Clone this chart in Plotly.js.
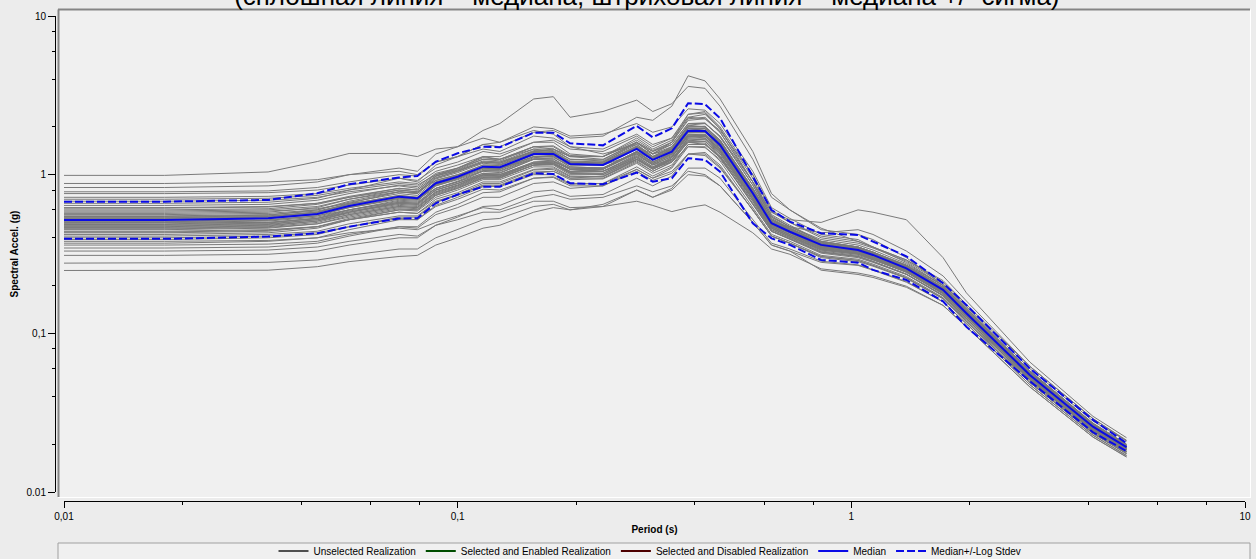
<!DOCTYPE html>
<html><head><meta charset="utf-8">
<script src="https://cdn.plot.ly/plotly-3.0.1.min.js"></script>
<style>html,body{margin:0;padding:0;background:#ececec;}#chart{width:1256px;height:559px;}</style>
</head><body><div id="chart"></div>
<script>
const periods = [0.01,0.018,0.033,0.044,0.053, 0.071,0.079,0.088,0.1,0.116,0.128,0.156,0.175,0.193,0.234, 0.285,0.313,0.35,0.385,0.425,0.464, 0.562,0.627,0.698,0.838, 1.04,1.135,1.38,1.71,1.96,2.84,4.11,5.0];

const median = [0.518,0.518,0.531,0.566,0.635, 0.727,0.710,0.883,0.971,1.123,1.113,1.35,1.35,1.168,1.151, 1.452,1.238,1.396,1.894,1.887,1.539, 0.763,0.494,0.437,0.361, 0.335,0.312,0.257,0.188,0.134,0.0547,0.0258,0.0192];
const upper = [0.676,0.676,0.693,0.763,0.87, 0.96,0.981,1.208,1.364,1.5,1.488,1.84,1.84,1.577,1.53, 2.03,1.72,1.96,2.82,2.78,2.27, 0.971,0.599,0.506,0.427, 0.417,0.38,0.306,0.207,0.151,0.06,0.0285,0.0203];
const lower = [0.394,0.394,0.407,0.427,0.47, 0.53,0.531,0.66,0.75,0.84,0.84,1.02,1.01,0.883,0.87, 1.03,0.904,0.949,1.27,1.24,1.044, 0.494,0.397,0.361,0.29, 0.279,0.251,0.217,0.159,0.11,0.05,0.0238,0.0181];

const r01 = [0.99,0.99,1.04,1.21,1.36, 1.36,1.3,1.45,1.5,1.7,1.6,2.0,1.95,1.75,1.8, 2.1,1.85,2.0,2.6,2.55,2.1, 1.05,0.62,0.53,0.42, 0.39,0.35,0.29,0.21,0.148,0.06,0.028,0.021];
const r02 = [0.88,0.88,0.9,0.93,1.0, 1.05,1.0,1.2,1.3,1.45,1.4,1.75,1.7,1.5,1.45, 1.8,1.55,1.7,2.3,2.25,1.85, 0.9,0.56,0.48,0.38, 0.35,0.325,0.27,0.2,0.14,0.057,0.027,0.0198];
const r03 = [0.83,0.83,0.85,0.9,1.0, 1.1,1.05,1.35,1.5,1.9,2.1,3.0,3.1,2.3,2.5, 2.95,2.5,2.8,3.6,3.5,2.7, 1.25,0.72,0.6,0.45, 0.42,0.39,0.3,0.2,0.14,0.058,0.027,0.02];
const r04 = [0.78,0.78,0.79,0.83,0.9, 1.0,0.98,1.2,1.3,1.55,1.5,1.85,1.9,1.7,1.75, 2.3,2.2,2.7,4.2,3.9,3.0, 1.4,0.76,0.6,0.46, 0.38,0.35,0.29,0.215,0.152,0.062,0.029,0.021];
const r05 = [0.76,0.76,0.77,0.8,0.86, 0.95,0.92,1.1,1.2,1.4,1.35,1.6,1.65,1.45,1.4, 1.75,1.5,1.7,2.4,2.5,2.0, 1.0,0.6,0.5,0.4, 0.37,0.345,0.285,0.205,0.145,0.058,0.027,0.0197];
const r06 = [0.72,0.72,0.73,0.76,0.82, 0.9,0.88,1.05,1.15,1.3,1.25,1.45,1.4,1.2,1.15, 1.35,1.15,1.25,1.6,1.55,1.3, 0.7,0.46,0.41,0.34, 0.32,0.3,0.25,0.185,0.13,0.053,0.025,0.0186];
const r07 = [0.70,0.70,0.71,0.74,0.8, 0.88,0.86,1.0,1.1,1.25,1.25,1.5,1.5,1.3,1.3, 1.6,1.4,1.55,2.1,2.1,1.75, 0.9,0.58,0.52,0.5, 0.6,0.58,0.52,0.3,0.18,0.066,0.03,0.022];
const r08 = [0.68,0.68,0.69,0.72,0.78, 0.85,0.82,1.0,1.08,1.25,1.22,1.5,1.45,1.3,1.25, 1.6,1.35,1.5,2.0,2.0,1.65, 0.8,0.5,0.45,0.37, 0.345,0.32,0.265,0.195,0.138,0.056,0.0265,0.0195];
const r09 = [0.66,0.66,0.67,0.71,0.8, 0.95,0.9,1.15,1.3,1.55,1.6,1.9,1.8,1.5,1.35, 1.55,1.3,1.4,1.75,1.7,1.4, 0.7,0.45,0.4,0.33, 0.31,0.29,0.245,0.18,0.127,0.052,0.0245,0.018];
const r10 = [0.64,0.64,0.65,0.69,0.76, 0.86,0.84,1.02,1.1,1.28,1.25,1.5,1.52,1.32,1.3, 1.65,1.42,1.6,2.25,2.3,1.85, 0.9,0.54,0.47,0.39, 0.36,0.335,0.275,0.2,0.142,0.058,0.0272,0.02];
const r11 = [0.62,0.62,0.63,0.66,0.72, 0.8,0.78,0.92,1.0,1.1,1.1,1.25,1.22,1.08,1.05, 1.25,1.1,1.2,1.5,1.48,1.25, 0.68,0.44,0.39,0.32, 0.3,0.28,0.235,0.172,0.123,0.051,0.0242,0.018];
const r12 = [0.60,0.60,0.61,0.65,0.72, 0.82,0.8,0.98,1.07,1.22,1.2,1.45,1.45,1.25,1.22, 1.55,1.3,1.5,2.05,2.0,1.65, 0.82,0.52,0.46,0.37, 0.345,0.32,0.262,0.192,0.137,0.056,0.0262,0.0194];
const r13 = [0.59,0.59,0.6,0.63,0.7, 0.78,0.76,0.95,1.05,1.2,1.2,1.4,1.45,1.3,1.3, 1.7,1.45,1.65,2.3,2.4,1.95, 0.95,0.55,0.47,0.38, 0.35,0.325,0.268,0.196,0.14,0.057,0.0268,0.0197];
const r14 = [0.58,0.58,0.59,0.61,0.66, 0.72,0.7,0.82,0.9,1.02,1.0,1.18,1.2,1.1,1.1, 1.4,1.2,1.35,1.85,1.85,1.5, 0.74,0.48,0.43,0.35, 0.33,0.305,0.255,0.186,0.132,0.054,0.0255,0.019];
const r15 = [0.56,0.56,0.57,0.6,0.67, 0.76,0.74,0.92,1.0,1.15,1.15,1.38,1.38,1.2,1.18, 1.5,1.28,1.45,1.95,1.95,1.6, 0.78,0.5,0.44,0.36, 0.337,0.312,0.258,0.19,0.135,0.055,0.026,0.0192];
const r16 = [0.55,0.55,0.56,0.59,0.65, 0.74,0.72,0.9,0.98,1.12,1.1,1.3,1.32,1.18,1.2, 1.6,1.4,1.6,2.2,2.25,1.9, 1.0,0.58,0.5,0.41, 0.38,0.35,0.28,0.2,0.143,0.058,0.027,0.0198];
const r17 = [0.54,0.54,0.55,0.58,0.64, 0.72,0.7,0.86,0.95,1.1,1.08,1.3,1.3,1.12,1.1, 1.4,1.2,1.35,1.8,1.78,1.45, 0.72,0.47,0.42,0.345, 0.322,0.3,0.248,0.182,0.13,0.053,0.025,0.0186];
const r18 = [0.53,0.53,0.54,0.58,0.66, 0.78,0.77,0.98,1.1,1.3,1.3,1.6,1.6,1.35,1.3, 1.6,1.35,1.45,1.9,1.85,1.5, 0.74,0.48,0.43,0.355, 0.33,0.307,0.253,0.185,0.132,0.054,0.0255,0.0189];
const r19 = [0.52,0.52,0.53,0.56,0.62, 0.7,0.69,0.85,0.94,1.08,1.08,1.3,1.32,1.15,1.15, 1.45,1.25,1.42,1.95,1.9,1.55, 0.76,0.49,0.44,0.36, 0.335,0.31,0.26,0.19,0.134,0.055,0.026,0.0192];
const r20 = [0.51,0.51,0.52,0.55,0.6, 0.67,0.66,0.8,0.88,1.0,1.0,1.2,1.22,1.08,1.1, 1.38,1.2,1.38,1.9,1.95,1.62, 0.82,0.52,0.46,0.375, 0.35,0.325,0.265,0.193,0.137,0.056,0.0265,0.0195];
const r21 = [0.50,0.50,0.51,0.54,0.6, 0.68,0.67,0.82,0.9,1.05,1.03,1.25,1.25,1.08,1.05, 1.3,1.12,1.25,1.65,1.62,1.35, 0.7,0.46,0.41,0.335, 0.315,0.292,0.242,0.177,0.127,0.052,0.0247,0.0183];
const r22 = [0.49,0.49,0.5,0.53,0.59, 0.66,0.65,0.8,0.88,1.02,1.02,1.25,1.28,1.15,1.15, 1.5,1.35,1.6,2.4,2.45,1.95, 0.9,0.53,0.46,0.37, 0.345,0.318,0.262,0.19,0.135,0.055,0.026,0.0193];
const r23 = [0.48,0.48,0.49,0.52,0.57, 0.64,0.63,0.77,0.85,0.98,0.98,1.18,1.2,1.05,1.05, 1.32,1.15,1.3,1.75,1.75,1.42, 0.72,0.47,0.42,0.345, 0.32,0.298,0.247,0.181,0.129,0.053,0.025,0.0186];
const r24 = [0.47,0.47,0.48,0.51,0.56, 0.63,0.62,0.76,0.84,0.97,0.97,1.15,1.15,1.0,1.0, 1.25,1.1,1.25,1.7,1.7,1.4, 0.74,0.5,0.47,0.43, 0.45,0.42,0.33,0.23,0.16,0.062,0.029,0.0212];
const r25 = [0.46,0.46,0.47,0.5,0.56, 0.63,0.62,0.78,0.86,1.0,0.98,1.18,1.18,1.02,1.0, 1.28,1.08,1.22,1.6,1.58,1.3, 0.66,0.44,0.395,0.325, 0.305,0.283,0.236,0.174,0.124,0.051,0.0243,0.018];
const r26 = [0.45,0.45,0.46,0.49,0.55, 0.62,0.61,0.75,0.83,0.96,0.95,1.15,1.16,1.02,1.02, 1.3,1.12,1.28,1.75,1.78,1.48, 0.76,0.49,0.44,0.36, 0.335,0.31,0.258,0.188,0.133,0.0545,0.0258,0.019];
const r27 = [0.44,0.44,0.45,0.47,0.52, 0.58,0.57,0.68,0.75,0.85,0.84,1.0,1.0,0.88,0.88, 1.08,0.95,1.05,1.35,1.32,1.1, 0.6,0.41,0.37,0.305, 0.288,0.268,0.224,0.166,0.119,0.049,0.0235,0.0175];
const r28 = [0.43,0.43,0.44,0.47,0.53, 0.6,0.59,0.72,0.8,0.93,0.93,1.12,1.12,0.98,0.97, 1.22,1.05,1.2,1.62,1.62,1.32, 0.68,0.45,0.405,0.335, 0.315,0.292,0.243,0.178,0.127,0.052,0.0248,0.0184];
const r29 = [0.42,0.42,0.43,0.46,0.52, 0.6,0.6,0.74,0.82,0.95,0.96,1.15,1.18,1.05,1.08, 1.4,1.25,1.45,2.05,2.1,1.75, 0.86,0.52,0.45,0.365, 0.34,0.315,0.26,0.19,0.135,0.055,0.026,0.0192];
const r30 = [0.41,0.41,0.42,0.44,0.49, 0.55,0.55,0.67,0.74,0.86,0.86,1.04,1.05,0.93,0.94, 1.18,1.02,1.15,1.55,1.55,1.28, 0.66,0.44,0.395,0.325, 0.305,0.284,0.236,0.173,0.124,0.051,0.0243,0.018];
const r31 = [0.40,0.40,0.41,0.43,0.47, 0.53,0.52,0.63,0.7,0.81,0.8,0.95,0.96,0.85,0.85, 1.05,0.92,1.02,1.35,1.35,1.12, 0.6,0.41,0.37,0.3, 0.283,0.265,0.222,0.165,0.118,0.049,0.0233,0.0174];
const r32 = [0.39,0.39,0.4,0.42,0.47, 0.54,0.54,0.67,0.75,0.88,0.88,1.07,1.08,0.95,0.95, 1.2,1.05,1.2,1.65,1.68,1.38, 0.7,0.46,0.41,0.34, 0.318,0.295,0.245,0.18,0.128,0.0525,0.025,0.0185];
const r33 = [0.38,0.38,0.385,0.4,0.43, 0.46,0.45,0.5,0.55,0.62,0.6,0.72,0.75,0.7,0.72, 0.85,0.78,0.85,1.05,1.0,0.85, 0.5,0.36,0.33,0.28, 0.268,0.25,0.21,0.158,0.115,0.0475,0.0228,0.017];
const r34 = [0.37,0.37,0.38,0.4,0.45, 0.52,0.52,0.64,0.72,0.84,0.85,1.02,1.05,0.95,0.98, 1.25,1.1,1.28,1.8,1.8,1.5, 0.75,0.48,0.43,0.35, 0.33,0.305,0.252,0.185,0.131,0.054,0.0255,0.0189];
const r35 = [0.36,0.36,0.365,0.38,0.42, 0.47,0.46,0.56,0.62,0.72,0.72,0.88,0.9,0.82,0.85, 1.08,0.95,1.1,1.5,1.5,1.22, 0.62,0.42,0.38,0.31, 0.293,0.273,0.228,0.168,0.121,0.05,0.0238,0.0177];
const r36 = [0.345,0.345,0.35,0.37,0.41, 0.47,0.47,0.58,0.65,0.77,0.78,0.95,0.97,0.87,0.88, 1.12,0.98,1.12,1.55,1.55,1.28, 0.65,0.44,0.395,0.325, 0.305,0.284,0.236,0.173,0.124,0.051,0.0243,0.018];
const r37 = [0.33,0.33,0.335,0.35,0.38, 0.42,0.41,0.48,0.52,0.58,0.58,0.68,0.68,0.62,0.63, 0.68,0.64,0.585,0.62,0.645,0.58, 0.43,0.34,0.315,0.255, 0.24,0.23,0.198,0.15,0.11,0.046,0.0222,0.0167];
const r38 = [0.31,0.31,0.315,0.33,0.36, 0.4,0.4,0.48,0.54,0.63,0.64,0.78,0.8,0.73,0.75, 0.95,0.85,0.98,1.35,1.38,1.15, 0.6,0.41,0.37,0.305, 0.288,0.268,0.224,0.166,0.119,0.049,0.0235,0.0175];
const r39 = [0.277,0.277,0.28,0.29,0.31, 0.34,0.34,0.4,0.45,0.52,0.53,0.63,0.65,0.6,0.63, 0.8,0.72,0.82,1.1,1.1,0.95, 0.52,0.37,0.34,0.285, 0.27,0.252,0.212,0.158,0.115,0.0475,0.0228,0.017];
const r40 = [0.249,0.249,0.25,0.263,0.283, 0.305,0.31,0.36,0.4,0.46,0.48,0.58,0.62,0.6,0.65, 0.8,0.72,0.8,1.0,0.98,0.85, 0.5,0.36,0.33,0.25, 0.235,0.225,0.195,0.15,0.11,0.046,0.0222,0.0166];
const r41 = [0.57,0.57,0.58,0.62,0.7, 0.8,0.78,0.96,1.05,1.2,1.18,1.42,1.4,1.22,1.2, 1.52,1.3,1.48,2.0,2.0,1.62, 0.8,0.51,0.45,0.37, 0.34,0.318,0.262,0.191,0.136,0.0555,0.0262,0.0194];
const r42 = [0.535,0.535,0.545,0.58,0.65, 0.74,0.72,0.9,0.99,1.15,1.14,1.38,1.36,1.18,1.16, 1.46,1.24,1.4,1.9,1.88,1.52, 0.75,0.49,0.435,0.358, 0.333,0.31,0.256,0.187,0.133,0.0545,0.0257,0.019];
const r43 = [0.505,0.505,0.515,0.55,0.62, 0.71,0.7,0.87,0.96,1.12,1.12,1.36,1.38,1.2,1.2, 1.5,1.3,1.46,2.0,2.02,1.65, 0.82,0.52,0.455,0.37, 0.342,0.318,0.26,0.19,0.135,0.0552,0.026,0.0193];
const r44 = [0.495,0.495,0.5,0.53,0.58, 0.65,0.64,0.78,0.86,0.99,0.98,1.18,1.18,1.03,1.02, 1.28,1.1,1.24,1.68,1.66,1.36, 0.7,0.46,0.41,0.34, 0.318,0.296,0.245,0.18,0.128,0.0525,0.025,0.0185];
const r45 = [0.485,0.485,0.495,0.53,0.6, 0.69,0.68,0.86,0.95,1.1,1.1,1.33,1.35,1.18,1.17, 1.48,1.27,1.43,1.95,1.95,1.58, 0.78,0.5,0.445,0.365, 0.338,0.314,0.259,0.189,0.134,0.055,0.026,0.0192];
const r46 = [0.475,0.475,0.485,0.52,0.58, 0.66,0.65,0.8,0.88,1.0,1.0,1.2,1.22,1.08,1.08, 1.38,1.2,1.36,1.85,1.85,1.5, 0.76,0.49,0.44,0.36, 0.335,0.31,0.257,0.188,0.133,0.0545,0.0258,0.0191];
const r47 = [0.465,0.465,0.475,0.51,0.58, 0.67,0.66,0.82,0.91,1.06,1.06,1.28,1.3,1.12,1.1, 1.38,1.18,1.32,1.78,1.76,1.44, 0.72,0.47,0.42,0.348, 0.325,0.302,0.25,0.183,0.13,0.0535,0.0252,0.0187];
const r48 = [0.455,0.455,0.465,0.49,0.54, 0.61,0.6,0.74,0.82,0.95,0.95,1.15,1.17,1.04,1.05, 1.34,1.17,1.34,1.85,1.9,1.58, 0.8,0.51,0.45,0.368, 0.34,0.316,0.26,0.19,0.135,0.0552,0.026,0.0193];
const r49 = [0.525,0.525,0.535,0.57,0.63, 0.71,0.7,0.85,0.93,1.06,1.05,1.26,1.26,1.1,1.08, 1.36,1.16,1.3,1.75,1.74,1.42, 0.71,0.47,0.42,0.35, 0.327,0.304,0.252,0.185,0.131,0.054,0.0254,0.0188];
const r50 = [0.545,0.545,0.555,0.6,0.68, 0.78,0.76,0.94,1.03,1.18,1.16,1.4,1.42,1.25,1.24, 1.58,1.36,1.55,2.1,2.12,1.72, 0.86,0.54,0.47,0.38, 0.35,0.325,0.266,0.194,0.138,0.0563,0.0266,0.0197];
const r51 = [0.615,0.615,0.625,0.66,0.73, 0.82,0.8,0.98,1.06,1.2,1.18,1.4,1.38,1.2,1.18, 1.48,1.26,1.4,1.9,1.88,1.54, 0.77,0.5,0.44,0.36, 0.336,0.312,0.258,0.189,0.134,0.055,0.026,0.0192];
const r52 = [0.435,0.435,0.445,0.47,0.52, 0.58,0.57,0.7,0.77,0.9,0.9,1.08,1.1,0.97,0.97, 1.24,1.08,1.24,1.72,1.74,1.45, 0.74,0.48,0.43,0.352, 0.33,0.306,0.253,0.185,0.132,0.054,0.0255,0.0189];

const realizations = [r01,r02,r03,r04,r05,r06,r07,r08,r09,r10,r11,r12,r13,r14,r15,r16,r17,r18,r19,r20,
  r21,r22,r23,r24,r25,r26,r27,r28,r29,r30,r31,r32,r33,r34,r35,r36,r37,r38,r39,r40,
  r41,r42,r43,r44,r45,r46,r47,r48,r49,r50,r51,r52];

const majorTicks = [0.01, 0.1, 1, 10];
const xTickText = ['0,01', '0,1', '1', '10'];
const yTickText = ['0.01', '0,1', '1', '10'];
const minorTicks = [0.02,0.04,0.06,0.08,0.2,0.4,0.6,0.8,2,4,6,8];

const traces = [];
// legend entry for the unselected group (darker sample like the reference legend)
traces.push({type: 'scatter', mode: 'lines', x: [null], y: [null], name: 'Unselected Realization',
  showlegend: true, line: {color: '#505050', width: 2}});
realizations.forEach(r => traces.push({
  type: 'scatter', mode: 'lines', x: periods, y: r,
  name: 'Unselected Realization', showlegend: false,
  line: {color: '#7a7a7a', width: 1}, hoverinfo: 'skip'
}));
traces.push({type: 'scatter', mode: 'lines', x: [null], y: [null], name: 'Selected and Enabled Realization',
  showlegend: true, line: {color: '#004d00', width: 2}});
traces.push({type: 'scatter', mode: 'lines', x: [null], y: [null], name: 'Selected and Disabled Realization',
  showlegend: true, line: {color: '#4d0000', width: 2}});
traces.push({type: 'scatter', mode: 'lines', x: periods, y: median, name: 'Median',
  line: {color: '#0a0ae6', width: 2}});
traces.push({type: 'scatter', mode: 'lines', x: periods, y: upper, name: 'Median+/-Log Stdev',
  legendgroup: 's', line: {color: '#0a0ae6', width: 2, dash: '8px,3px'}});
traces.push({type: 'scatter', mode: 'lines', x: periods, y: lower, name: 'Median+/-Log Stdev',
  legendgroup: 's', showlegend: false, line: {color: '#0a0ae6', width: 2, dash: '8px,3px'}});

// pixel helpers for paper coords (plot area: x 55..1245, y 16..501)
const px = v => (v - 55) / 1190;
const py = v => (501 - v) / 485;

const layout = {
  width: 1256, height: 559,
  margin: {l: 55, r: 11, t: 16, b: 58, autoexpand: false},
  paper_bgcolor: '#ececec', plot_bgcolor: 'rgba(0,0,0,0)',
  font: {family: 'Liberation Sans, Arial, sans-serif', size: 10, color: '#000'},
  showlegend: true, hovermode: false,
  title: {text: '(сплошная линия – медиана, штриховая линия – медиана +/- сигма)',
    font: {family: 'Liberation Sans, Arial, sans-serif', size: 26, color: '#000'},
    x: 0.515, xanchor: 'center', xref: 'container', y: 1 - 5 / 559, yanchor: 'bottom', yref: 'container'},
  xaxis: {
    type: 'log', range: [-2, 1], domain: [9 / 1190, 1], anchor: 'free', position: 0,
    showgrid: false, zeroline: false, showline: true, linecolor: '#000', linewidth: 1,
    ticks: 'outside', ticklen: 6, tickcolor: '#000', tickmode: 'array',
    tickvals: majorTicks, ticktext: xTickText,
    minor: {tickmode: 'array', tickvals: minorTicks, ticks: 'outside', ticklen: 3, tickcolor: '#000', showgrid: false},
    title: {text: '<b>Period (s)</b>', font: {size: 10}, standoff: 4}
  },
  yaxis: {
    type: 'log', range: [-2, 1], domain: [9 / 485, 1], anchor: 'free', position: 0,
    showgrid: false, zeroline: false, showline: true, linecolor: '#000', linewidth: 1,
    ticks: 'outside', ticklen: 7, tickcolor: '#000', tickmode: 'array',
    tickvals: majorTicks, ticktext: yTickText,
    minor: {tickmode: 'array', tickvals: minorTicks, ticks: 'outside', ticklen: 3, tickcolor: '#000', showgrid: false},
    title: {text: '<b>Spectral Accel. (g)</b>', font: {size: 10}, standoff: 5}
  },
  legend: {orientation: 'h', x: 0.5, xanchor: 'center', y: py(551), yanchor: 'middle',
    bgcolor: 'rgba(0,0,0,0)', borderwidth: 0, font: {size: 10}},
  shapes: [
    {type: 'rect', xref: 'paper', yref: 'paper', x0: px(58), x1: px(1250), y0: py(497), y1: py(9.5),
      fillcolor: '#f0f0f0', line: {width: 0}, layer: 'below'},
    {type: 'line', xref: 'paper', yref: 'paper', x0: px(58), x1: px(1250), y0: py(9.5), y1: py(9.5),
      line: {color: '#858585', width: 2}, layer: 'below'},
    {type: 'line', xref: 'paper', yref: 'paper', x0: px(58.5), x1: px(58.5), y0: py(9.5), y1: py(497),
      line: {color: '#858585', width: 2}, layer: 'below'},
    {type: 'line', xref: 'paper', yref: 'paper', x0: px(1250.5), x1: px(1250.5), y0: py(9.5), y1: py(497),
      line: {color: '#ffffff', width: 1}, layer: 'below'},
    {type: 'line', xref: 'paper', yref: 'paper', x0: px(58), x1: px(1251), y0: py(497.5), y1: py(497.5),
      line: {color: '#ffffff', width: 1}, layer: 'below'},
    {type: 'rect', xref: 'paper', yref: 'paper', x0: px(58), x1: px(1250), y0: py(565), y1: py(543),
      fillcolor: '#f0f0f0', line: {color: '#a0a0a0', width: 1}, layer: 'below'}
  ]
};

Plotly.newPlot('chart', traces, layout, {staticPlot: true, displayModeBar: false});
</script></body></html>
